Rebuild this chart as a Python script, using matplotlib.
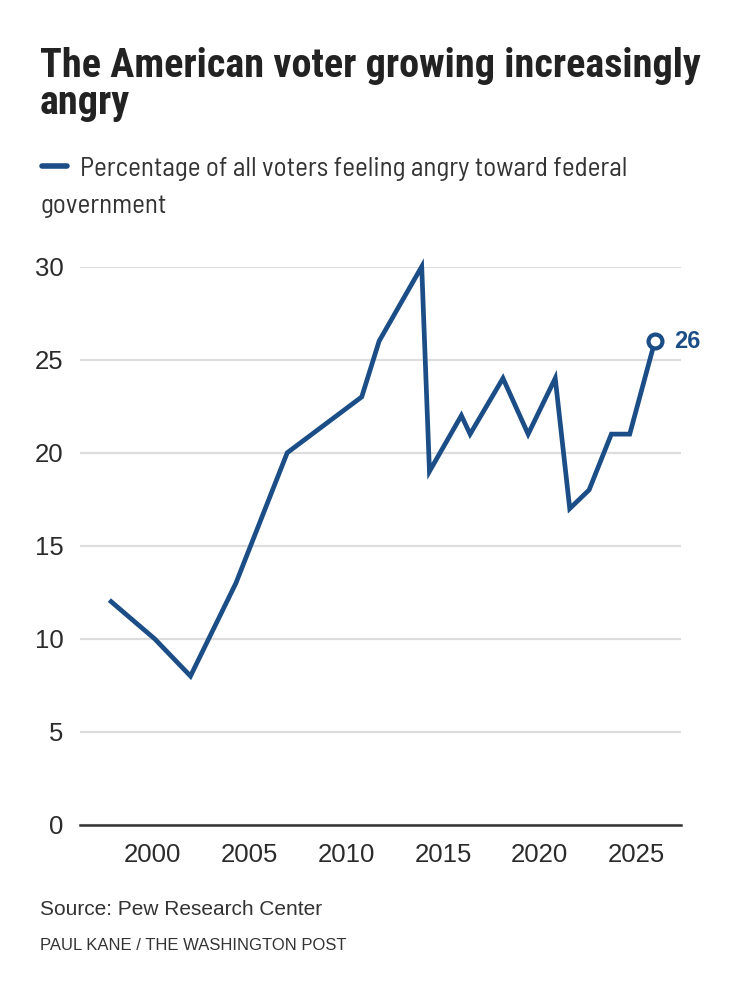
import matplotlib
matplotlib.use("Agg")
import matplotlib.pyplot as plt

years = [1997.85, 2000.1, 2001.95, 2004.3, 2006.95, 2010.8, 2011.7, 2013.9,
         2014.3, 2015.95, 2016.4, 2018.1, 2019.4, 2020.8, 2021.55, 2022.55,
         2023.7, 2024.65, 2025.95]
values = [12, 10, 8, 13, 20, 23, 26, 30, 19, 22, 21, 24, 21, 24, 17, 18, 21, 21, 26]
x_ticks = [2000, 2005, 2010, 2015, 2020, 2025]
y_ticks = [0, 5, 10, 15, 20, 25, 30]

BLUE = "#1b4d86"
TXT = "#2b2b2b"
W, H = 746, 1000
SANS = ["Liberation Sans", "DejaVu Sans"]
TITLEF = ["Roboto Condensed", "Barlow Semi Condensed", "DejaVu Sans"]
LEGF = ["Barlow Semi Condensed", "Roboto Condensed", "DejaVu Sans"]

fig = plt.figure(figsize=(W / 100, H / 100), dpi=100)
ax = fig.add_axes([80 / W, 1 - 825 / H, (681 - 80) / W, (825 - 266.6) / H])

ax.plot(years, values, color=BLUE, lw=3.4, solid_joinstyle="miter", clip_on=False, zorder=3)
ax.plot([years[-1]], [values[-1]], marker="o", ms=10, mfc="white", mec=BLUE, mew=3,
        clip_on=False, zorder=4)
ax.annotate(str(values[-1]), (years[-1], values[-1]), xytext=(14, 0), textcoords="offset points",
            va="center", ha="left", color=BLUE, fontsize=17, fontweight="bold",
            family=SANS)

ax.set_xlim(1996.24, 2027.3)
ax.set_ylim(0, 30)
ax.set_xticks(x_ticks)
ax.set_yticks(y_ticks)
ax.grid(axis="y", color="#dddddd", lw=1.6)
ax.set_axisbelow(True)
for s in ["top", "right", "left"]:
    ax.spines[s].set_visible(False)
ax.spines["bottom"].set_color("#333333")
ax.spines["bottom"].set_linewidth(1.8)
ax.spines["bottom"].set_zorder(2)
ax.tick_params(axis="both", length=0, labelsize=18.5, labelcolor=TXT)
ax.tick_params(axis="x", pad=13)
ax.tick_params(axis="y", pad=12)
for lab in ax.get_xticklabels() + ax.get_yticklabels():
    lab.set_family(SANS)

fig.text(40 / W, 1 - 77 / H, "The American voter growing increasingly", fontsize=29,
         fontweight="bold", family=TITLEF, color="#222222", va="baseline")
fig.text(40 / W, 1 - 114 / H, "angry", fontsize=29,
         fontweight="bold", family=TITLEF, color="#222222", va="baseline")

fig.add_artist(plt.Line2D([42 / W, 67 / W], [1 - 166 / H, 1 - 166 / H], color=BLUE, lw=4,
                          solid_capstyle="round"))
fig.text(80 / W, 1 - 176 / H, "Percentage of all voters feeling angry toward federal",
         fontsize=19.5, family=LEGF, fontweight="normal", color="#333333", va="baseline")
fig.text(40 / W, 1 - 213 / H, "government",
         fontsize=19.5, family=LEGF, fontweight="normal", color="#333333", va="baseline")

fig.text(40 / W, 1 - 915 / H, "Source: Pew Research Center", fontsize=15,
         family=SANS, color="#333333", va="baseline")
fig.text(40 / W, 1 - 950 / H, "PAUL KANE / THE WASHINGTON POST", fontsize=12,
         family=SANS, color="#333333", va="baseline")

fig.savefig("out.png", dpi=100, facecolor="white")
